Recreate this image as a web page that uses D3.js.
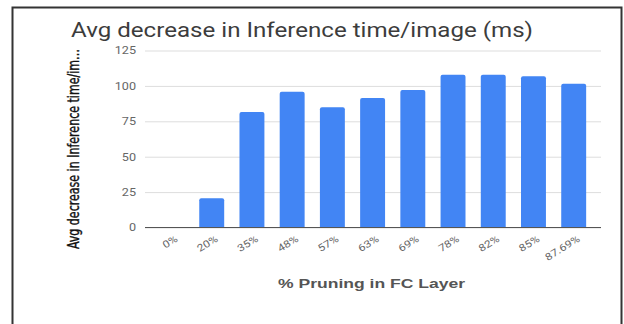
<!DOCTYPE html>
<html>
<head>
<meta charset="utf-8">
<script src="https://cdn.jsdelivr.net/npm/d3@7"></script>
<style>
  html, body { margin: 0; padding: 0; background: #fff; }
  svg { display: block; }
</style>
</head>
<body>
<svg id="chart" width="624" height="324"></svg>
<script>
// Pruning levels in the FC layer and the measured average speed-up per image
const categories = ["0%", "20%", "35%", "48%", "57%", "63%", "69%", "78%", "82%", "85%", "87.69%"];
const values = [0, 20.6, 81.6, 95.9, 84.9, 91.5, 97.1, 107.9, 107.9, 106.8, 101.6];
const yTicks = [0, 25, 50, 75, 100, 125];

const chartTitle = "Avg decrease in Inference time/image (ms)";
const xTitle = "% Pruning in FC Layer";
const yTitle = "Avg decrease in Inference time/im\u2026";

// the chart's lettering is set slightly wide
const WIDEN = 1.2;

const svg = d3.select("#chart");

// frame around the figure
svg.append("path")
  .attr("d", "M12.5,324 V7.5 H621.5 V324")
  .attr("fill", "none")
  .attr("stroke", "#333")
  .attr("stroke-width", 2);

const x = d3.scaleBand()
  .domain(categories)
  .range([151.4, 593.8])
  .paddingInner(0.38)
  .paddingOuter(0.19);

const y = d3.scaleLinear()
  .domain([0, 125])
  .range([227.5, 50.5]);

function widen(sel) {
  sel.each(function () {
    const len = this.getComputedTextLength();
    d3.select(this)
      .attr("textLength", len * WIDEN)
      .attr("lengthAdjust", "spacingAndGlyphs");
  });
}

// title
svg.append("text")
  .attr("x", 71)
  .attr("y", 36.5)
  .attr("font-family", "Roboto, 'Open Sans', sans-serif")
  .attr("font-size", 19.5)
  .attr("fill", "#3c3c3c")
  .attr("textLength", 462)
  .attr("lengthAdjust", "spacingAndGlyphs")
  .text(chartTitle);

// horizontal gridlines and value labels
const yAxis = d3.axisLeft(y)
  .tickValues(yTicks)
  .tickSize(-(601 - 145))
  .tickPadding(9);

const gy = svg.append("g")
  .attr("transform", "translate(145,0)")
  .call(yAxis);
gy.select(".domain").remove();
gy.selectAll(".tick line").attr("stroke", "#ddd").attr("stroke-width", 1);
gy.selectAll(".tick text")
  .attr("font-family", "Roboto, sans-serif")
  .attr("font-size", 10.5)
  .attr("fill", "#666")
  .call(widen);

// bars with softly rounded tops
function barPath(d, i) {
  const x0 = x(categories[i]);
  const w = x.bandwidth();
  const yb = y(0);
  const yt = y(d);
  const h = yb - yt;
  if (h <= 0) return "";
  const r = Math.min(2, h);
  return `M${x0},${yb} V${yt + r} Q${x0},${yt} ${x0 + r},${yt} H${x0 + w - r} Q${x0 + w},${yt} ${x0 + w},${yt + r} V${yb} Z`;
}

svg.append("g")
  .selectAll("path")
  .data(values)
  .join("path")
  .attr("d", barPath)
  .attr("fill", "#4285f4");

// baseline
svg.append("line")
  .attr("x1", 145).attr("x2", 601)
  .attr("y1", y(0)).attr("y2", y(0))
  .attr("stroke", "#555")
  .attr("stroke-width", 1.2);

// category labels, slanted
const xAxis = d3.axisBottom(x).tickSize(0).tickPadding(0);
const gx = svg.append("g")
  .attr("transform", `translate(0,${y(0)})`)
  .call(xAxis);
gx.select(".domain").remove();
gx.selectAll(".tick text")
  .attr("font-family", "Roboto, sans-serif")
  .attr("font-size", 10)
  .attr("fill", "#666")
  .attr("text-anchor", "end")
  .attr("dy", 0)
  .attr("transform", "translate(7,13) rotate(-32)")
  .call(widen);

// axis titles
svg.append("text")
  .attr("x", 278)
  .attr("y", 287.5)
  .attr("font-family", "'Liberation Sans', Arial, sans-serif")
  .attr("font-weight", "bold")
  .attr("font-size", 13)
  .attr("fill", "#555")
  .attr("textLength", 187)
  .attr("lengthAdjust", "spacingAndGlyphs")
  .text(xTitle);

svg.append("text")
  .attr("transform", "translate(79,149) rotate(-90)")
  .attr("text-anchor", "middle")
  .attr("font-family", "'Liberation Sans Narrow', 'DejaVu Sans Condensed', sans-serif")
  .attr("font-size", 15)
  .attr("fill", "#111")
  .attr("stroke", "#111")
  .attr("stroke-width", 0.35)
  .attr("textLength", 200)
  .attr("lengthAdjust", "spacingAndGlyphs")
  .text(yTitle);
</script>
</body>
</html>
